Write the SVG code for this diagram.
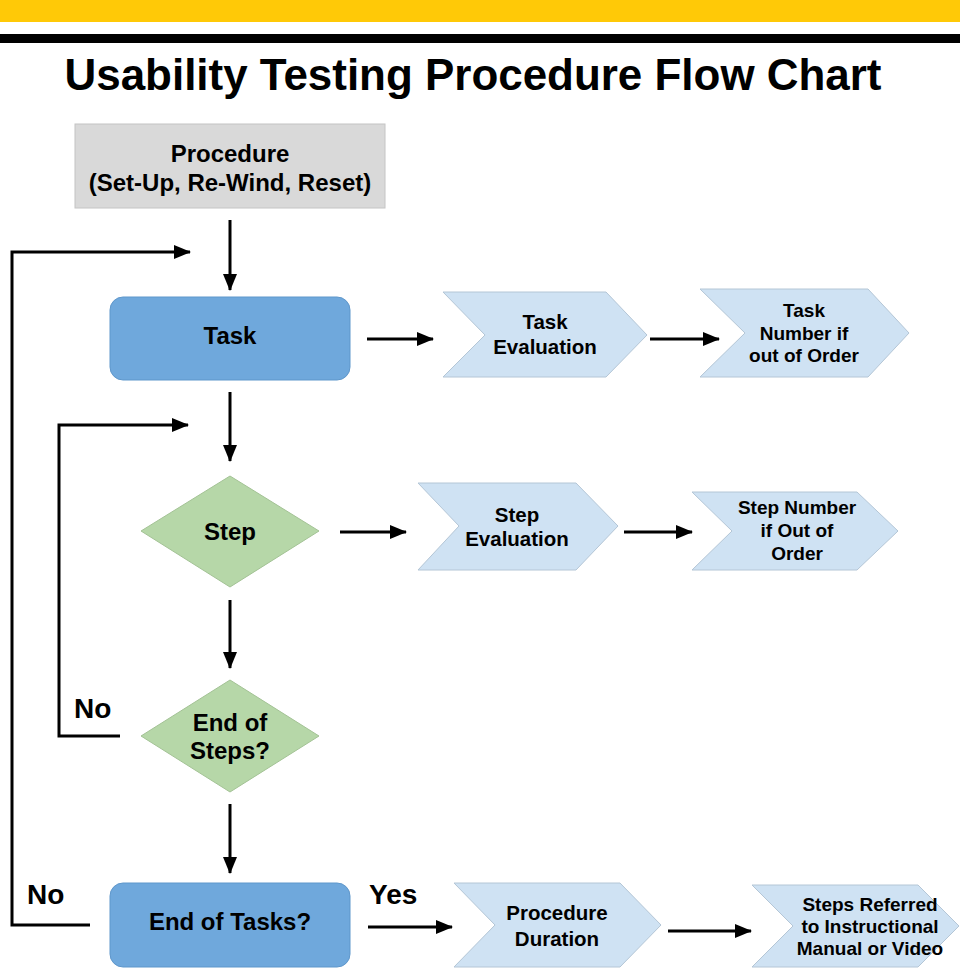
<svg xmlns="http://www.w3.org/2000/svg" width="960" height="970" viewBox="0 0 960 970">
<defs>
<marker id="ah" markerUnits="userSpaceOnUse" markerWidth="17" markerHeight="14" refX="16" refY="7" orient="auto">
<path d="M0,0 L17,7 L0,14 Z" fill="#000"/>
</marker>
<style>
text{font-family:"Liberation Sans",Arial,sans-serif;font-weight:bold;fill:#000;text-anchor:middle}
.conn{fill:none;stroke:#000;stroke-width:3}
.chev{fill:#cfe2f3;stroke:#b4c6d6;stroke-width:1}
.dia{fill:#b6d7a8;stroke:#a3c295;stroke-width:1}
.blue{fill:#6fa8dc;stroke:#5f97cb;stroke-width:1}
.t22{font-size:24px}
.t20{font-size:20.5px}
.t18{font-size:19px}
.lbl{font-size:28px;text-anchor:start}
</style>
</defs>
<rect x="0" y="0" width="960" height="970" fill="#fff"/>
<rect x="0" y="0" width="960" height="22" fill="#ffc907"/>
<rect x="0" y="34" width="960" height="9" fill="#000"/>
<text x="473" y="90" style="font-size:45px" textLength="817" lengthAdjust="spacingAndGlyphs">Usability Testing Procedure Flow Chart</text>

<g id="connectors">
<path class="conn" d="M230,220 V290" marker-end="url(#ah)"/>
<path class="conn" d="M90,925 H12 V252 H190" marker-end="url(#ah)"/>
<path class="conn" d="M367,339 H433" marker-end="url(#ah)"/>
<path class="conn" d="M650,339 H719" marker-end="url(#ah)"/>
<path class="conn" d="M230,392 V461" marker-end="url(#ah)"/>
<path class="conn" d="M120,736 H59 V425 H188" marker-end="url(#ah)"/>
<path class="conn" d="M340,532 H406" marker-end="url(#ah)"/>
<path class="conn" d="M624,532 H692" marker-end="url(#ah)"/>
<path class="conn" d="M230,600 V668" marker-end="url(#ah)"/>
<path class="conn" d="M230,804 V873" marker-end="url(#ah)"/>
<path class="conn" d="M368,927 H452" marker-end="url(#ah)"/>
<path class="conn" d="M668,931 H751" marker-end="url(#ah)"/>
<text class="lbl" x="74" y="718">No</text>
<text class="lbl" x="27" y="904">No</text>
<text class="lbl" x="369" y="904">Yes</text>
</g>

<g id="procedure">
<rect x="75" y="124" width="310" height="84" fill="#d9d9d9" stroke="#c4c4c4"/>
<text class="t22" x="230" y="162">Procedure</text>
<text class="t22" x="230" y="191">(Set-Up, Re-Wind, Reset)</text>
</g>

<g id="task">
<rect class="blue" x="110" y="297" width="240" height="83" rx="13"/>
<text class="t22" x="230" y="344">Task</text>
</g>

<g id="task-evaluation">
<polygon class="chev" points="443,292 606,292 647,335 606,377 443,377 485,335"/>
<text class="t20" x="545" y="329">Task</text>
<text class="t20" x="545" y="354">Evaluation</text>
</g>

<g id="task-number">
<polygon class="chev" points="700,289 868,289 909,333 868,377 700,377 745,333"/>
<text class="t18" x="804" y="317">Task</text>
<text class="t18" x="804" y="340">Number if</text>
<text class="t18" x="804" y="362">out of Order</text>
</g>

<g id="step">
<polygon class="dia" points="230,476 319,531 230,587 141,531"/>
<text class="t22" x="230" y="540">Step</text>
</g>

<g id="step-evaluation">
<polygon class="chev" points="418,483 576,483 618,526 576,570 418,570 459,526"/>
<text class="t20" x="517" y="522">Step</text>
<text class="t20" x="517" y="546">Evaluation</text>
</g>

<g id="step-number">
<polygon class="chev" points="692,492 857,492 898,531 857,570 692,570 732,531"/>
<text class="t18" x="797" y="514">Step Number</text>
<text class="t18" x="797" y="537">if Out of</text>
<text class="t18" x="797" y="560">Order</text>
</g>

<g id="end-of-steps">
<polygon class="dia" points="230,680 319,736 230,792 141,736"/>
<text class="t22" x="230" y="731">End of</text>
<text class="t22" x="230" y="759">Steps?</text>
</g>

<g id="end-of-tasks">
<rect class="blue" x="110" y="883" width="240" height="84" rx="13"/>
<text class="t22" x="230" y="930">End of Tasks?</text>
</g>

<g id="procedure-duration">
<polygon class="chev" points="454,883 620,883 661,925 620,967 454,967 495,925"/>
<text class="t20" x="557" y="920">Procedure</text>
<text class="t20" x="557" y="946">Duration</text>
</g>

<g id="steps-referred">
<polygon class="chev" points="752,885 918,885 959,926 918,967 752,967 793,926"/>
<text class="t18" x="870" y="911">Steps Referred</text>
<text class="t18" x="870" y="933">to Instructional</text>
<text class="t18" x="870" y="955">Manual or Video</text>
</g>
</svg>
